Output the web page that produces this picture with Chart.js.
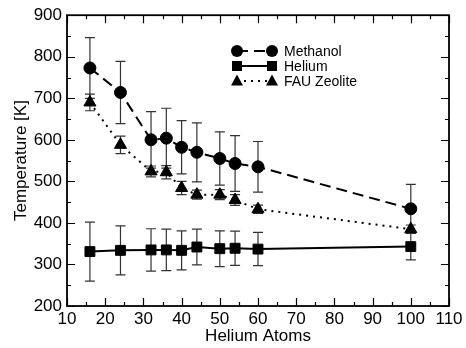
<!DOCTYPE html>
<html>
<head>
<meta charset="utf-8">
<script src="https://cdn.jsdelivr.net/npm/chart.js@4.4.1/dist/chart.umd.min.js"></script>
<style>
  html, body { margin: 0; padding: 0; background: #fff; }
  #wrap { width: 466px; height: 348px; }
</style>
</head>
<body>
<div id="wrap"><canvas id="myChart" width="466" height="348"></canvas></div>
<script>
// --- DONNÉES ---
const heliumAtoms = [16, 24, 32, 36, 40, 44, 50, 54, 60, 100];

const methanolT   = [773, 714, 600, 604, 582, 570, 555, 543, 535, 434];
const methanolErr = [73, 75, 68, 72, 64, 71, 64, 67, 61, 59];

const heliumT     = [331, 334, 335, 335, 334, 342, 338, 339, 337, 343];
const heliumErr   = [71, 59, 51, 50, 47, 43, 43, 41, 40, 32];

const fauT        = [690, 588, 524, 522, 484, 468, 468, 455, 433, 385];
const fauErr      = [20, 21, 13, 16, 16, 11, 12, 13, 10, 10];

const seriesNames = ['Methanol', 'Helium', 'FAU Zeolite'];
const xTicks = [10, 20, 30, 40, 50, 60, 70, 80, 90, 100, 110];
const yTicks = [200, 300, 400, 500, 600, 700, 800, 900];

const FONT = 'Liberation Sans, Arial, Helvetica, sans-serif';

function toPoints(ys) {
    return heliumAtoms.map((x, i) => ({ x: x, y: ys[i] }));
}

// --- BARRES D'ERREUR ---
const errorBars = {
    id: 'errorBars',
    beforeDatasetsDraw(chart) {
        const ctx = chart.ctx;
        const xs = chart.scales.x, ys = chart.scales.y;
        ctx.save();
        ctx.strokeStyle = '#333';
        ctx.lineWidth = 1.2;
        chart.data.datasets.forEach(ds => {
            ds.data.forEach((p, i) => {
                const px = xs.getPixelForValue(p.x);
                const top = ys.getPixelForValue(p.y + ds.err[i]);
                const bot = ys.getPixelForValue(p.y - ds.err[i]);
                ctx.beginPath();
                ctx.moveTo(px, top); ctx.lineTo(px, bot);
                ctx.moveTo(px - 5, top); ctx.lineTo(px + 5, top);
                ctx.moveTo(px - 5, bot); ctx.lineTo(px + 5, bot);
                ctx.stroke();
            });
        });
        ctx.restore();
    }
};

// --- CADRE + GRADUATIONS VERS L'INTÉRIEUR ---
const frameTicks = {
    id: 'frameTicks',
    afterDraw(chart) {
        const ctx = chart.ctx;
        const a = chart.chartArea;
        const xs = chart.scales.x, ys = chart.scales.y;
        ctx.save();
        ctx.strokeStyle = '#000';
        ctx.lineWidth = 1.2;
        ctx.beginPath();
        xTicks.forEach((v, i) => {
            const px = Math.round(xs.getPixelForValue(v)) + 0.5;
            ctx.moveTo(px, a.bottom); ctx.lineTo(px, a.bottom - 8);
            ctx.moveTo(px, a.top); ctx.lineTo(px, a.top + 8);
            if (i < xTicks.length - 1) {
                const m = Math.round(xs.getPixelForValue((v + xTicks[i + 1]) / 2)) + 0.5;
                ctx.moveTo(m, a.bottom); ctx.lineTo(m, a.bottom - 4);
                ctx.moveTo(m, a.top); ctx.lineTo(m, a.top + 4);
            }
        });
        yTicks.forEach((v, i) => {
            const py = Math.round(ys.getPixelForValue(v)) + 0.5;
            ctx.moveTo(a.left, py); ctx.lineTo(a.left + 8, py);
            ctx.moveTo(a.right, py); ctx.lineTo(a.right - 8, py);
            if (i < yTicks.length - 1) {
                const m = Math.round(ys.getPixelForValue((v + yTicks[i + 1]) / 2)) + 0.5;
                ctx.moveTo(a.left, m); ctx.lineTo(a.left + 4, m);
                ctx.moveTo(a.right, m); ctx.lineTo(a.right - 4, m);
            }
        });
        ctx.stroke();
        ctx.lineWidth = 1.8;
        ctx.strokeRect(a.left, a.top, a.right - a.left, a.bottom - a.top);
        ctx.restore();
    }
};

// --- LÉGENDE ---
function drawMarker(ctx, style, x, y) {
    ctx.beginPath();
    if (style === 'circle') {
        ctx.arc(x, y, 6, 0, Math.PI * 2);
    } else if (style === 'rect') {
        ctx.rect(x - 5, y - 5, 10, 10);
    } else {
        ctx.moveTo(x, y - 6.5);
        ctx.lineTo(x + 6, y + 4.5);
        ctx.lineTo(x - 6, y + 4.5);
        ctx.closePath();
    }
    ctx.fill();
}

const legendBox = {
    id: 'legendBox',
    afterDraw(chart) {
        const ctx = chart.ctx;
        ctx.save();
        ctx.fillStyle = '#000';
        ctx.strokeStyle = '#000';
        ctx.font = '14px ' + FONT;
        ctx.textBaseline = 'middle';
        chart.data.datasets.forEach((ds, i) => {
            const y = 51 + i * 15;
            ctx.lineWidth = 2;
            ctx.setLineDash(ds.borderDash || []);
            ctx.beginPath();
            ctx.moveTo(237, y); ctx.lineTo(272, y);
            ctx.stroke();
            ctx.setLineDash([]);
            drawMarker(ctx, ds.pointStyle, 237, y);
            drawMarker(ctx, ds.pointStyle, 272, y);
            ctx.fillText(ds.label, 284, y + 1);
        });
        ctx.restore();
    }
};

const ctx = document.getElementById('myChart');
const myChart = new Chart(ctx, {
    type: 'scatter',
    data: {
        datasets: [
            {
                label: seriesNames[0],
                data: toPoints(methanolT),
                err: methanolErr,
                showLine: true,
                borderColor: '#000',
                backgroundColor: '#000',
                borderWidth: 2,
                borderDash: [11, 6],
                pointStyle: 'circle',
                pointRadius: 6,
                pointBorderWidth: 1
            },
            {
                label: seriesNames[1],
                data: toPoints(heliumT),
                err: heliumErr,
                showLine: true,
                borderColor: '#000',
                backgroundColor: '#000',
                borderWidth: 2,
                pointStyle: 'rect',
                pointRadius: 7,
                pointBorderWidth: 1
            },
            {
                label: seriesNames[2],
                data: toPoints(fauT),
                err: fauErr,
                showLine: true,
                borderColor: '#000',
                backgroundColor: '#000',
                borderWidth: 2,
                borderDash: [2, 5],
                pointStyle: 'triangle',
                pointRadius: 7,
                pointBorderWidth: 1
            }
        ]
    },
    options: {
        responsive: false,
        animation: false,
        layout: { padding: { left: 0, right: 17, top: 10, bottom: 0 } },
        plugins: { legend: { display: false }, tooltip: { enabled: false } },
        scales: {
            x: {
                type: 'linear',
                min: 10, max: 110,
                afterBuildTicks: s => { s.ticks = xTicks.map(v => ({ value: v })); },
                afterFit: s => { s.height = 42; },
                grid: { display: false, drawTicks: false },
                border: { display: false },
                ticks: { color: '#000', padding: 3, maxRotation: 0, font: { family: FONT, size: 17 } },
                title: { display: true, text: 'Helium Atoms', color: '#000', padding: { top: 0, bottom: 1 }, font: { family: FONT, size: 17 } }
            },
            y: {
                type: 'linear',
                min: 200, max: 900,
                afterBuildTicks: s => { s.ticks = yTicks.map(v => ({ value: v })); },
                afterFit: s => { s.width = 67; },
                grid: { display: false, drawTicks: false },
                border: { display: false },
                ticks: { color: '#000', padding: 5, font: { family: FONT, size: 17 } },
                title: { display: true, text: 'Temperature [K]', color: '#000', padding: { top: 11, bottom: 0 }, font: { family: FONT, size: 17 } }
            }
        }
    },
    plugins: [errorBars, frameTicks, legendBox]
});
</script>
</body>
</html>
